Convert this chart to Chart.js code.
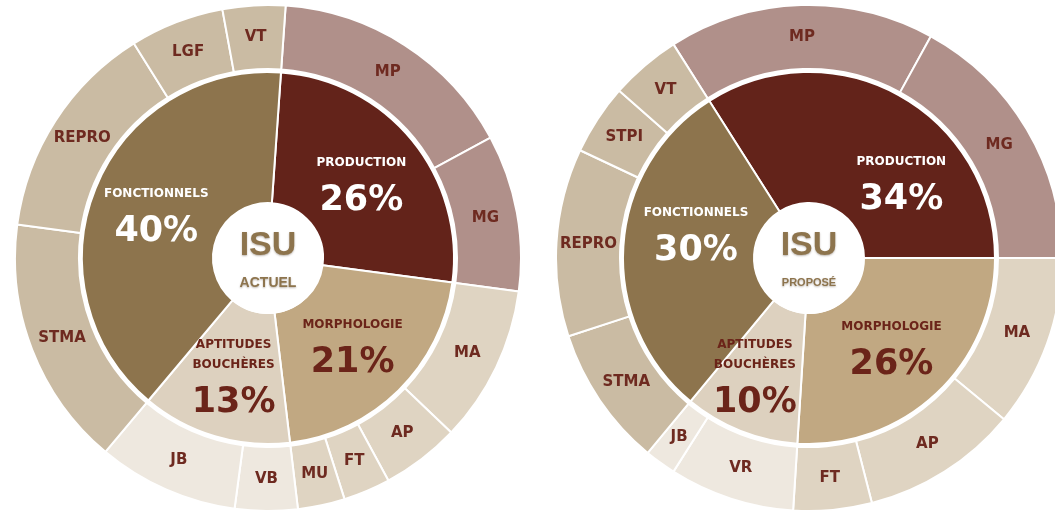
<!DOCTYPE html>
<html><head><meta charset="utf-8">
<script src="https://cdn.jsdelivr.net/npm/chart.js@4/dist/chart.umd.min.js"></script>
<style>
html,body{margin:0;padding:0;background:#fff;width:1055px;height:515px;overflow:hidden;}
#wrap{position:relative;width:1055px;height:515px;overflow:hidden;}
canvas{position:absolute;}
</style></head><body>
<div id="wrap">
<canvas id="c1" width="508" height="508" style="left:14px;top:4px"></canvas>
<canvas id="c2" width="508" height="508" style="left:555px;top:4px"></canvas>
</div>
<script>
// ---- data ----
const groupNames = [['PRODUCTION'], ['MORPHOLOGIE'], ['APTITUDES', 'BOUCHÈRES'], ['FONCTIONNELS']];
const actuelGroupValues = [26, 21, 13, 40];
const proposeGroupValues = [34, 26, 10, 30];

const actuelCriteria = ['MP', 'MG', 'MA', 'AP', 'FT', 'MU', 'VB', 'JB', 'STMA', 'REPRO', 'LGF', 'VT'];
const actuelCriteriaValues = [16, 10, 10, 5, 3, 3, 4, 9, 16, 14, 6, 4];
const actuelCriteriaGroup = [0, 0, 1, 1, 1, 1, 2, 2, 3, 3, 3, 3];

const proposeCriteria = ['MP', 'MG', 'MA', 'AP', 'FT', 'VR', 'JB', 'STMA', 'REPRO', 'STPI', 'VT'];
const proposeCriteriaValues = [17, 17, 11, 10, 5, 8, 2, 9, 12, 4.5, 4.5];
const proposeCriteriaGroup = [0, 0, 1, 1, 1, 2, 2, 3, 3, 3, 3];

// ---- styles ----
const innerColors = ['#63231a', '#c1a882', '#ddd1bf', '#8d744d'];
const outerColors = ['#b0908a', '#dfd4c2', '#eee8df', '#cabba3'];
const innerTextColors = ['#ffffff', '#6b2419', '#6b2419', '#ffffff'];
const darkText = '#6e2a20';

const labelPlugin = {
  id: 'arcLabels',
  afterDatasetsDraw(chart, args, opts) {
    const ctx = chart.ctx;
    ctx.save();
    ctx.textAlign = 'center';
    ctx.textBaseline = 'middle';
    // outer ring labels
    const outerMeta = chart.getDatasetMeta(0);
    const outerLabels = chart.data.labels;
    outerMeta.data.forEach((arc, i) => {
      const a = (arc.startAngle + arc.endAngle) / 2;
      const r = (arc.innerRadius + arc.outerRadius) / 2;
      ctx.font = 'bold 15px "DejaVu Sans"';
      ctx.fillStyle = darkText;
      ctx.fillText(outerLabels[i], arc.x + Math.cos(a) * r, arc.y + Math.sin(a) * r);
    });
    // inner ring labels
    const innerMeta = chart.getDatasetMeta(2);
    const innerData = chart.data.datasets[2].data;
    innerMeta.data.forEach((arc, i) => {
      let a = (arc.startAngle + arc.endAngle) / 2;
      let r = (arc.innerRadius + arc.outerRadius) / 2;
      if (opts.angles && opts.angles[i] !== undefined) a = opts.angles[i] * Math.PI / 180 - Math.PI / 2;
      if (opts.radii && opts.radii[i] !== undefined) r = opts.radii[i];
      const cx = arc.x + Math.cos(a) * r;
      const cy = arc.y + Math.sin(a) * r;
      const names = groupNames[i];
      const n = names.length;
      const pctY = cy + 19 + (n - 1) * 10;
      ctx.fillStyle = innerTextColors[i];
      ctx.font = 'bold 12px "DejaVu Sans"';
      names.forEach((t, k) => {
        ctx.fillText(t, cx, pctY - 38 - 20 * (n - 1 - k));
      });
      ctx.font = 'bold 35px "DejaVu Sans"';
      ctx.fillText(innerData[i] + '%', cx, pctY);
    });
    // centre
    const c = innerMeta.data[0];
    ctx.fillStyle = '#ffffff';
    ctx.beginPath();
    ctx.arc(c.x, c.y + 2, 54, 0, Math.PI * 2);
    ctx.fill();
    ctx.shadowColor = 'rgba(60,40,20,0.35)';
    ctx.shadowBlur = 2;
    ctx.shadowOffsetY = 1;
    ctx.fillStyle = '#8d744d';
    ctx.font = 'bold 34px "Liberation Sans"';
    ctx.fillText('ISU', c.x, c.y - 12);
    ctx.font = 'bold ' + opts.subSize + 'px "Liberation Sans"';
    ctx.fillText(opts.sub, c.x, c.y + 25);
    ctx.restore();
  }
};

function makeChart(id, criteria, criteriaValues, criteriaGroup, groupValues, rotation, plug) {
  return new Chart(document.getElementById(id), {
    type: 'doughnut',
    data: {
      labels: criteria,
      datasets: [
        {
          data: criteriaValues,
          backgroundColor: criteriaGroup.map(g => outerColors[g]),
          borderColor: '#ffffff', borderWidth: 2, weight: 64
        },
        {
          data: [1], backgroundColor: 'rgba(0,0,0,0)', borderWidth: 0, weight: 3
        },
        {
          data: groupValues,
          backgroundColor: innerColors,
          borderColor: '#ffffff', borderWidth: 2, weight: 131
        }
      ]
    },
    options: {
      responsive: false,
      animation: false,
      events: [],
      cutout: 55,
      rotation: rotation,
      hoverOffset: 0,
      layout: { padding: 0 },
      plugins: {
        legend: { display: false },
        tooltip: { enabled: false },
        arcLabels: plug
      }
    },
    plugins: [labelPlugin]
  });
}

makeChart('c1', actuelCriteria, actuelCriteriaValues, actuelCriteriaGroup, actuelGroupValues, 4,
  { sub: 'ACTUEL', subSize: 14 });
makeChart('c2', proposeCriteria, proposeCriteriaValues, proposeCriteriaGroup, proposeGroupValues, -32.4,
  { sub: 'PROPOSÉ', subSize: 11, angles: { 0: 50, 2: 205, 3: 283 }, radii: { 2: 128, 3: 116 } });
</script>
</body></html>
